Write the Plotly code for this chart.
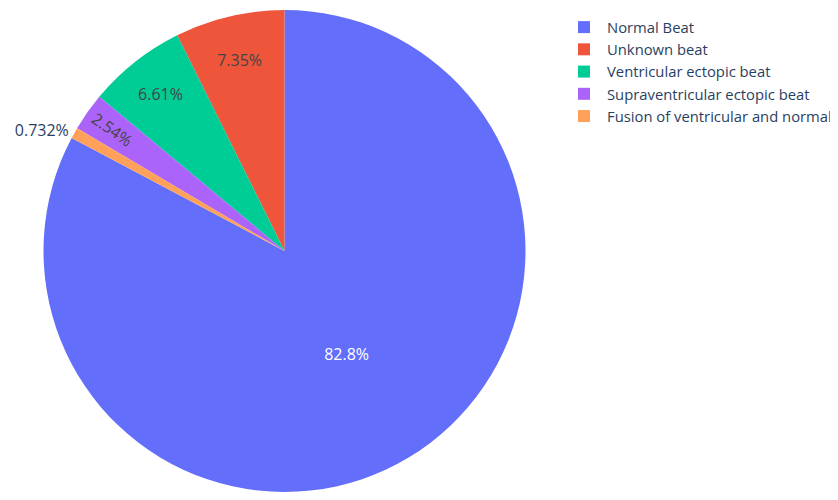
import plotly.graph_objects as go

labels = ["Normal Beat", "Unknown beat", "Ventricular ectopic beat",
          "Supraventricular ectopic beat", "Fusion of ventricular and normal beat"]
counts = [72471, 6431, 5788, 2223, 641]

fig = go.Figure(go.Pie(labels=labels, values=counts, textinfo="percent",
                       textfont=dict(size=16)))
fig.update_layout(
    template="plotly",
    font=dict(size=15),
    margin=dict(l=0, r=269, t=2, b=0, autoexpand=False),
    legend=dict(x=1.0, y=0.998, xanchor="left", yanchor="top",
                font=dict(size=14.8), itemwidth=36),
)
fig.write_html("out.html")
